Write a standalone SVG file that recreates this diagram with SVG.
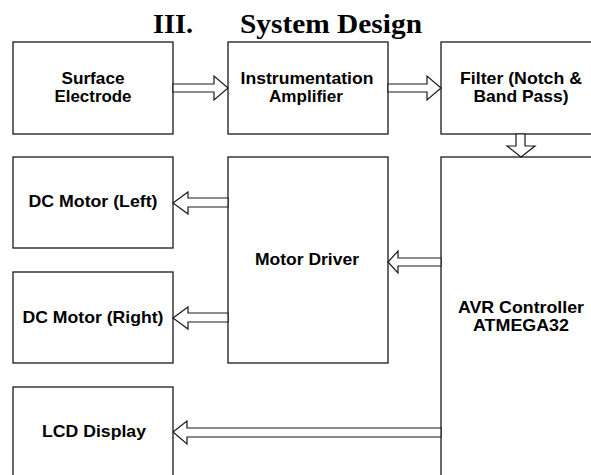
<svg xmlns="http://www.w3.org/2000/svg" width="591" height="475" viewBox="0 0 591 475">
<style>
.box{fill:#fff;stroke:#1a1a1a;stroke-width:1.3}
.lbl{font-family:"Liberation Sans",Arial,sans-serif;font-weight:bold;font-size:17px;fill:#000;text-anchor:middle}
.arr{fill:#fff;stroke:#1a1a1a;stroke-width:1.2;stroke-linejoin:miter}
.title{font-family:"Liberation Serif","Times New Roman",serif;font-weight:bold;font-size:28px;fill:#000}
</style>
<rect width="591" height="475" fill="#fff"/>
<g id="title">
<text class="title" x="153" y="33" textLength="40" lengthAdjust="spacingAndGlyphs">III.</text>
<text class="title" x="240" y="33" textLength="182" lengthAdjust="spacingAndGlyphs">System Design</text>
</g>
<g id="surface-electrode">
<rect class="box" x="13" y="42" width="160" height="92"/>
<text class="lbl" x="93" y="84" textLength="63" lengthAdjust="spacingAndGlyphs">Surface</text>
<text class="lbl" x="93" y="102" textLength="77" lengthAdjust="spacingAndGlyphs">Electrode</text>
</g>
<g id="instrumentation-amplifier">
<rect class="box" x="228" y="42" width="160" height="92"/>
<text class="lbl" x="307" y="84" textLength="133" lengthAdjust="spacingAndGlyphs">Instrumentation</text>
<text class="lbl" x="306" y="102" textLength="74" lengthAdjust="spacingAndGlyphs">Amplifier</text>
</g>
<g id="filter">
<rect class="box" x="441" y="42" width="160" height="92"/>
<text class="lbl" x="521" y="84" textLength="122" lengthAdjust="spacingAndGlyphs">Filter (Notch &amp;</text>
<text class="lbl" x="521" y="102" textLength="95" lengthAdjust="spacingAndGlyphs">Band Pass)</text>
</g>
<g id="dc-motor-left">
<rect class="box" x="13" y="157" width="160" height="91"/>
<text class="lbl" x="93" y="207" textLength="129" lengthAdjust="spacingAndGlyphs">DC Motor (Left)</text>
</g>
<g id="motor-driver">
<rect class="box" x="228" y="157" width="160" height="206"/>
<text class="lbl" x="307" y="265" textLength="104" lengthAdjust="spacingAndGlyphs">Motor Driver</text>
</g>
<g id="dc-motor-right">
<rect class="box" x="13" y="272" width="160" height="91"/>
<text class="lbl" x="93" y="323" textLength="141" lengthAdjust="spacingAndGlyphs">DC Motor (Right)</text>
</g>
<g id="avr-controller">
<rect class="box" x="441" y="157" width="160" height="330"/>
<text class="lbl" x="521" y="313" textLength="126" lengthAdjust="spacingAndGlyphs">AVR Controller</text>
<text class="lbl" x="521" y="331" textLength="96" lengthAdjust="spacingAndGlyphs">ATMEGA32</text>
</g>
<g id="lcd-display">
<rect class="box" x="13" y="387" width="160" height="100"/>
<text class="lbl" x="94" y="437" textLength="104" lengthAdjust="spacingAndGlyphs">LCD Display</text>
</g>
<g id="connectors">
<polygon class="arr" points="173,84 214,84 214,76 228,88 214,100 214,92 173,92"/>
<polygon class="arr" points="388,84 427,84 427,76 441,88 427,100 427,92 388,92"/>
<polygon class="arr" points="516,134 516,146 507,146 521,157 535,146 525,146 525,134"/>
<polygon class="arr" points="228,198 188,198 188,192 173,203 188,214 188,207 228,207"/>
<polygon class="arr" points="228,313 188,313 188,307 173,318 188,329 188,322 228,322"/>
<polygon class="arr" points="441,258 398,258 398,251 388,262 398,273 398,266 441,266"/>
<polygon class="arr" points="441,428 187,428 187,421 173,432 187,444 187,437 441,437"/>
</g>
</svg>
